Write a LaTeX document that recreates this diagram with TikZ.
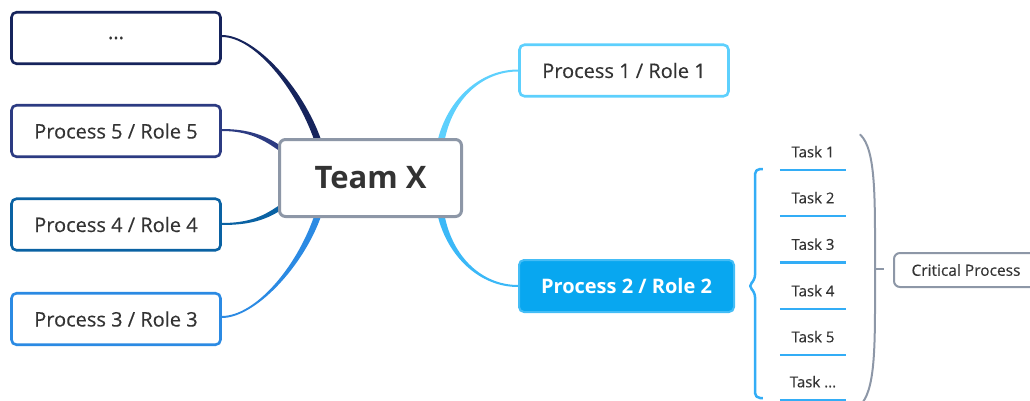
\documentclass[tikz,border=0pt]{standalone}
\usepackage{fontspec}
\setmainfont{Open Sans}[UprightFeatures={FakeBold=0.3}]
\usetikzlibrary{calc,backgrounds}

\definecolor{txt}{HTML}{333333}
\definecolor{cnavy}{HTML}{16245C}
\definecolor{cfive}{HTML}{2C3B82}
\definecolor{cfour}{HTML}{0A62A3}
\definecolor{cthree}{HTML}{2B8AE3}
\definecolor{cone}{HTML}{5DD0FD}
\definecolor{ctwo}{HTML}{08A7F0}
\definecolor{ctwoedge}{HTML}{44BDF6}
\definecolor{ctwoline}{HTML}{3BB8F7}
\definecolor{cgray}{HTML}{8D97A7}
\definecolor{ctask}{HTML}{33ADF6}

\begin{document}
\begin{tikzpicture}[x=1pt,y=-1pt,
  rolebox/.style={draw, line width=2.6pt, rounded corners=5pt, fill=white,
    minimum width=209pt, minimum height=51.5pt, inner sep=0pt,
    font=\fontsize{20}{24}\selectfont, text=txt},
  activebox/.style={rolebox, draw=ctwoedge, line width=2pt, fill=ctwo, text=white,
    font=\bfseries\fontsize{20}{24}\selectfont, minimum width=215pt, minimum height=52pt},
  teambox/.style={draw=cgray, line width=3pt, rounded corners=6pt, fill=white,
    minimum width=182pt, minimum height=77pt, inner sep=0pt,
    font=\bfseries\fontsize{31}{36}\selectfont, text=txt},
  taskitem/.style={inner xsep=0pt, inner ysep=9.5pt, text height=11pt, text depth=3pt,
    minimum width=66pt, font=\fontsize{15}{18}\selectfont, text=txt,
    append after command={(\tikzlastnode.south west) edge[line width=2.6pt, draw=ctask] (\tikzlastnode.south east)}},
  critbox/.style={draw=cgray, line width=2pt, rounded corners=6pt, fill=white,
    minimum width=144pt, minimum height=34pt, inner sep=0pt,
    font=\fontsize{15.5}{18}\selectfont, text=txt},
]
\useasboundingbox (0,0) rectangle (1030,401);
\clip (0,0) rectangle (1030,401);

% centre and role boxes
\node[teambox] (team) at (370.5,178) {Team X};
\node[rolebox, draw=cnavy] (dots) at (116,38) {...};
\node[rolebox, draw=cfive] (p5) at (116,131) {Process 5 / Role 5};
\node[rolebox, draw=cfour] (p4) at (116,224.5) {Process 4 / Role 4};
\node[rolebox, draw=cthree] (p3) at (116,319) {Process 3 / Role 3};
\node[rolebox, draw=cone] (p1) at (624,70.5) {Process 1 / Role 1};
\node[activebox] (p2) at (626.5,286) {Process 2 / Role 2};

% tapered branches, thin at the role boxes and wide at the centre
\begin{scope}[on background layer]
\fill[cnavy] ($(dots.east)+(0,-3)$) .. controls +(33,0) and +(-18,-53) .. ($(team.north west)+(43.5,3)$)
  -- ($(team.north west)+(36.5,3)$) .. controls +(-18,-52) and +(33,0) .. ($(dots.east)+(0,-1)$) -- cycle;
\fill[cfive] ($(p5.east)+(0,-2)$) .. controls +(28,0) and +(-17,-12) .. ($(team.north west)+(6,10)$)
  -- ($(team.north west)+(3,14)$) .. controls +(-17,-12) and +(28,0) .. ($(p5.east)+(0,0)$) -- cycle;
\fill[cfour] ($(p4.east)+(0,-1.5)$) .. controls +(28,0) and +(-17,12) .. ($(team.south west)+(3,-14)$)
  -- ($(team.south west)+(6,-10)$) .. controls +(-17,12) and +(28,0) .. ($(p4.east)+(0,0.5)$) -- cycle;
\fill[cthree] ($(p3.east)+(0,-3)$) .. controls +(33,0) and +(-18,53) .. ($(team.south west)+(36.5,-3)$)
  -- ($(team.south west)+(43.5,-3)$) .. controls +(-18,52) and +(33,0) .. ($(p3.east)+(0,-1)$) -- cycle;
\fill[cone] ($(team.north east)+(-25.5,3)$) .. controls +(10,-42) and +(-38,0) .. ($(p1.west)+(0,-1)$)
  -- ($(p1.west)+(0,1)$) .. controls +(-36,0) and +(8,-42) .. ($(team.north east)+(-18.5,3)$) -- cycle;
\fill[ctwoline] ($(team.south east)+(-25.5,-3)$) .. controls +(10,42) and +(-38,0) .. ($(p2.west)+(0,1)$)
  -- ($(p2.west)+(0,-1)$) .. controls +(-36,0) and +(8,42) .. ($(team.south east)+(-18.5,-3)$) -- cycle;
\end{scope}

% tasks of process 2
\node[taskitem, anchor=south] (t1) at (813,170) {Task 1};
\node[taskitem, anchor=south] (t2) at (813,216) {Task 2};
\node[taskitem, anchor=south] (t3) at (813,262.5) {Task 3};
\node[taskitem, anchor=south] (t4) at (813,309) {Task 4};
\node[taskitem, anchor=south] (t5) at (813,355) {Task 5};
\node[taskitem, anchor=south] (t6) at (813,400) {Task ...};

% brace from process 2 to its tasks
\draw[ctask, line width=2.5pt, rounded corners=5pt, line join=round]
  ($(t1.south west)+(-17,-1)$) -- ($(p2.east)+(20,-117)$) -- ($(p2.east)+(20,-6)$)
  -- ($(p2.east)+(13,0)$) -- ($(p2.east)+(20,6)$) -- ($(p2.east)+(20,112)$) -- ($(t6.south west)+(-17,-2)$);

% bracket grouping the tasks into the critical process
\node[critbox] (crit) at (966,270) {Critical Process};
\draw[cgray, line width=2pt, line cap=round]
  ($(t1.north east)+(14,-2)$) .. controls +(16,15) and +(0,-70) .. ($(crit.west)+(-18,-1)$)
  .. controls +(0,70) and +(14,-18) .. ($(t6.south east)+(16,3)$);
\draw[cgray, line width=2pt] ($(crit.west)+(-17,-1)$) -- ($(crit.west)+(-9,-1)$);
\end{tikzpicture}
\end{document}
